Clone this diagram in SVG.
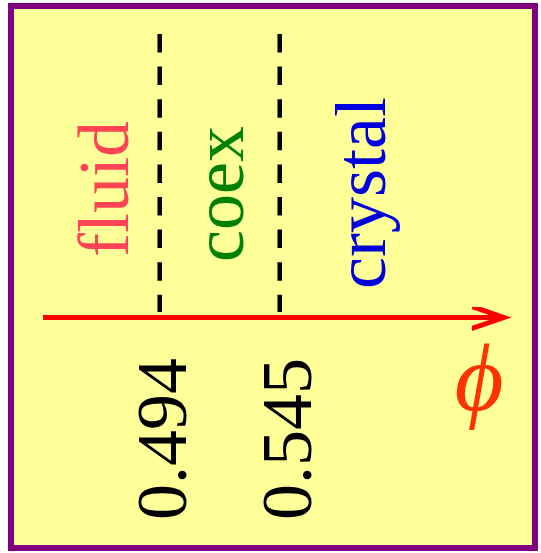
<svg xmlns="http://www.w3.org/2000/svg" width="541" height="553" viewBox="0 0 541 553">
<style>
.lbl{font-family:"Liberation Serif","Times New Roman",serif;font-size:72px;text-anchor:middle}
.dash{stroke:#000;stroke-width:4.5;stroke-dasharray:18.5 14.1;fill:none}
</style>
<defs>
<marker id="arr" markerUnits="userSpaceOnUse" markerWidth="40" markerHeight="30" refX="32" refY="11" orient="auto" viewBox="0 0 40 30">
<polyline points="0,0 32,11 0,22" fill="none" stroke="#ff0000" stroke-width="5" stroke-linecap="round" stroke-linejoin="miter"/>
</marker>
</defs>
<rect id="frame" x="11" y="6" width="524" height="542" fill="#ffff99" stroke="#800080" stroke-width="6"/>
<g id="connectors">
<line class="dash" x1="159.7" y1="34" x2="159.7" y2="312"/>
<line class="dash" x1="279.7" y1="34" x2="279.7" y2="312"/>
<line x1="43" y1="317.5" x2="504" y2="317.5" stroke="#ff0000" stroke-width="5" marker-end="url(#arr)"/>
</g>
<g id="fluid"><text class="lbl" fill="#ff4455" transform="translate(128,189) rotate(-90)">fluid</text></g>
<g id="coex"><text class="lbl" fill="#008000" transform="translate(243,194) rotate(-90)">coex</text></g>
<g id="crystal"><text class="lbl" fill="#0000dd" transform="translate(385,193) rotate(-90)">crystal</text></g>
<g id="v0494"><text class="lbl" fill="#000" transform="translate(186,439) rotate(-90)">0.494</text></g>
<g id="v0545"><text class="lbl" fill="#000" transform="translate(311,439) rotate(-90)">0.545</text></g>
<g id="phi"><text class="lbl" fill="#ff3300" font-style="italic" x="479" y="410" style="font-size:95px">ϕ</text></g>
</svg>
